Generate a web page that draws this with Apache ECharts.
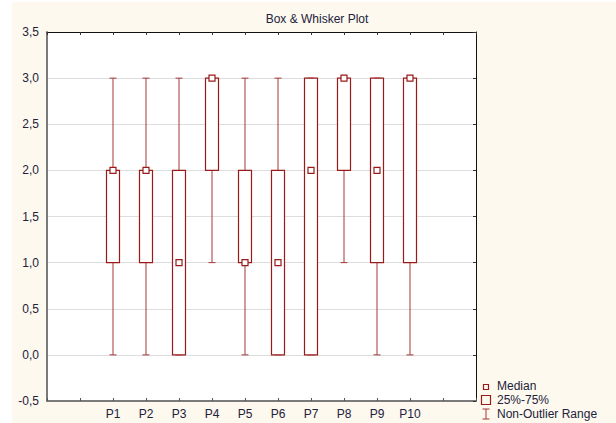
<!DOCTYPE html>
<html>
<head>
<meta charset="utf-8">
<script src="https://cdn.jsdelivr.net/npm/echarts@6/dist/echarts.min.js"></script>
<style>
  html, body { margin: 0; padding: 0; background: #ffffff; }
  #chart { position: absolute; left: 12px; top: 2px; width: 604px; height: 421px; background: #fdf9ee; }
</style>
</head>
<body>
<div id="chart"></div>
<script>
// Box & whisker summary per variable
const categories   = ['P1', 'P2', 'P3', 'P4', 'P5', 'P6', 'P7', 'P8', 'P9', 'P10'];
const whiskerLow   = [0, 0, 0, 1, 0, 0, 0, 1, 0, 0];
const quartile1    = [1, 1, 0, 2, 1, 0, 0, 2, 1, 1];
const medians      = [2, 2, 1, 3, 1, 1, 2, 3, 2, 3];
const quartile3    = [2, 2, 2, 3, 2, 2, 3, 3, 3, 3];
const whiskerHigh  = [3, 3, 3, 3, 3, 3, 3, 3, 3, 3];
const legendLabels = ['Median', '25%-75%', 'Non-Outlier Range'];

// Variables sit on a numeric x axis with two empty slots before and after
const FIRST_SLOT = 2;
const X_MAX = categories.length + 3;
const xPos = i => i + FIRST_SLOT;

const RED = '#9a1a1a';
const WHISKER = '#a63838';
const TEXT = '#22223c';

const whiskerData = categories.map((c, i) => [xPos(i), whiskerLow[i], whiskerHigh[i]]);
const boxData = categories.map((c, i) => [xPos(i), quartile1[i], quartile3[i]]);
const medianData = categories.map((c, i) => [xPos(i), medians[i]]);

const chart = echarts.init(document.getElementById('chart'), null, { renderer: 'svg' });

const baseX = { type: 'value', min: 0, max: X_MAX, interval: 1, gridIndex: 0 };
const baseY = { type: 'value', min: -0.5, max: 3.5, interval: 0.5, gridIndex: 0 };

chart.setOption({
  animation: false,
  backgroundColor: 'transparent',
  title: {
    text: 'Box & Whisker Plot',
    left: 300, top: 6, textAlign: 'center',
    textStyle: { fontFamily: 'Liberation Sans, Arial, sans-serif', fontSize: 12, fontWeight: 'normal', color: TEXT }
  },
  grid: { left: 35, top: 30, width: 429, height: 369, backgroundColor: '#ffffff', show: true, borderWidth: 0 },
  xAxis: [
    Object.assign({}, baseX, {
      position: 'bottom',
      axisLine: { onZero: false, lineStyle: { color: '#7a7a7a', width: 2 } },
      axisTick: { inside: true, length: 3, lineStyle: { color: '#555555' } },
      splitLine: { show: false },
      axisLabel: {
        margin: 7, color: TEXT, fontFamily: 'Liberation Sans, Arial, sans-serif', fontSize: 12,
        formatter: v => categories[v - FIRST_SLOT] || ''
      }
    }),
    Object.assign({}, baseX, {
      position: 'top',
      axisLine: { onZero: false, lineStyle: { color: '#111111', width: 1 } },
      axisTick: { inside: true, length: 3, lineStyle: { color: '#333333' } },
      splitLine: { show: false },
      axisLabel: { show: false }
    })
  ],
  yAxis: [
    Object.assign({}, baseY, {
      position: 'left',
      axisLine: { show: true, onZero: false, lineStyle: { color: '#7a7a7a', width: 2 } },
      axisTick: { show: false },
      splitLine: { show: true, lineStyle: { color: '#dddddd', width: 1 } },
      axisLabel: {
        margin: 8, color: TEXT, fontFamily: 'Liberation Sans, Arial, sans-serif', fontSize: 12,
        formatter: v => v.toFixed(1).replace('.', ',')
      }
    }),
    Object.assign({}, baseY, {
      position: 'right',
      axisLine: { show: true, onZero: false, lineStyle: { color: '#111111', width: 1 } },
      axisTick: { show: true, inside: true, length: 3, lineStyle: { color: '#333333' } },
      splitLine: { show: false },
      axisLabel: { show: false }
    })
  ],
  series: [
    {
      name: legendLabels[2],
      type: 'custom',
      xAxisIndex: 0, yAxisIndex: 0,
      data: whiskerData,
      z: 2,
      renderItem: (params, api) => {
        const lo = api.coord([api.value(0), api.value(1)]);
        const hi = api.coord([api.value(0), api.value(2)]);
        const cap = 3.5;
        const style = { stroke: WHISKER, lineWidth: 1 };
        return {
          type: 'group',
          children: [
            { type: 'line', shape: { x1: lo[0], y1: lo[1], x2: hi[0], y2: hi[1] }, style },
            { type: 'line', shape: { x1: lo[0] - cap, y1: lo[1], x2: lo[0] + cap, y2: lo[1] }, style },
            { type: 'line', shape: { x1: hi[0] - cap, y1: hi[1], x2: hi[0] + cap, y2: hi[1] }, style }
          ]
        };
      }
    },
    {
      name: legendLabels[1],
      type: 'custom',
      xAxisIndex: 0, yAxisIndex: 0,
      data: boxData,
      z: 3,
      renderItem: (params, api) => {
        const bot = api.coord([api.value(0), api.value(1)]);
        const top = api.coord([api.value(0), api.value(2)]);
        const half = 6.5;
        return {
          type: 'rect',
          shape: { x: bot[0] - half, y: top[1], width: half * 2, height: bot[1] - top[1] },
          style: { fill: '#ffffff', stroke: RED, lineWidth: 1.2 }
        };
      }
    },
    {
      name: legendLabels[0],
      type: 'scatter',
      xAxisIndex: 0, yAxisIndex: 0,
      data: medianData,
      z: 4,
      symbol: 'rect',
      symbolSize: 6,
      itemStyle: { color: '#ffffff', borderColor: RED, borderWidth: 1.2, opacity: 1 }
    }
  ],
  graphic: [
    { type: 'rect', shape: { x: 471.5, y: 382.5, width: 5, height: 5 }, style: { fill: '#fdf9ee', stroke: RED, lineWidth: 1.2 } },
    { type: 'text', x: 485, y: 384, style: { text: legendLabels[0], fill: TEXT, font: '12px "Liberation Sans", Arial, sans-serif', verticalAlign: 'middle' } },
    { type: 'rect', shape: { x: 469.5, y: 393.5, width: 9, height: 9 }, style: { fill: '#fdf9ee', stroke: RED, lineWidth: 1.2 } },
    { type: 'text', x: 485, y: 398, style: { text: legendLabels[1], fill: TEXT, font: '12px "Liberation Sans", Arial, sans-serif', verticalAlign: 'middle' } },
    { type: 'line', shape: { x1: 474, y1: 407, x2: 474, y2: 417 }, style: { stroke: WHISKER, lineWidth: 1 } },
    { type: 'line', shape: { x1: 470.5, y1: 407, x2: 477.5, y2: 407 }, style: { stroke: WHISKER, lineWidth: 1 } },
    { type: 'line', shape: { x1: 470.5, y1: 417, x2: 477.5, y2: 417 }, style: { stroke: WHISKER, lineWidth: 1 } },
    { type: 'text', x: 485, y: 412, style: { text: legendLabels[2], fill: TEXT, font: '12px "Liberation Sans", Arial, sans-serif', verticalAlign: 'middle' } }
  ]
});
</script>
</body>
</html>
